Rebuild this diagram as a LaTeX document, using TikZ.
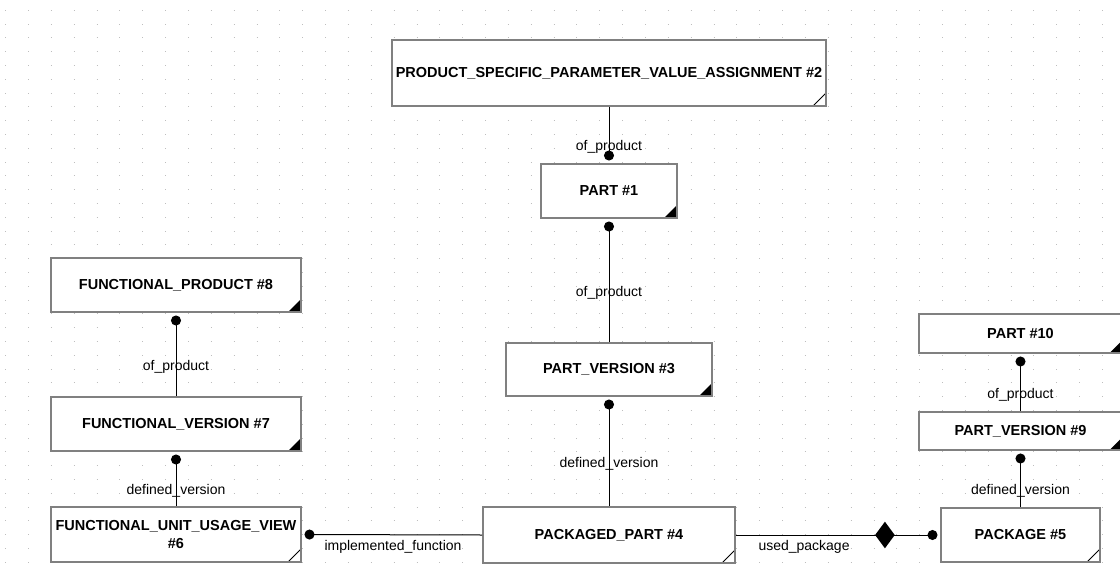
\documentclass[tikz,border=0pt]{standalone}
\usepackage{fontspec}
\setsansfont{Liberation Sans}
\usepackage{tikz}
\usetikzlibrary{arrows.meta,shapes.geometric,positioning,calc}

\definecolor{entline}{RGB}{128,128,128}
\definecolor{griddot}{RGB}{190,190,190}

\begin{document}
\begin{tikzpicture}[x=1pt,y=-1pt,
  ent/.style={draw=entline,line width=2pt,fill=white,inner sep=0pt,align=center,
    font=\sffamily\bfseries\fontsize{14.5}{18}\selectfont},
  entfull/.style={ent,path picture={\fill[black] (path picture bounding box.south east) -- ++(-13pt,0pt) -- ++(13pt,13pt) -- cycle;}},
  entopen/.style={ent,path picture={\draw[black,line width=1pt] ([xshift=-13pt]path picture bounding box.south east) -- ++(13pt,13pt);}},
  conn/.style={draw=black,line width=1pt},
  dotstart/.style={arrows={{Circle[length=10pt]}-},shorten <=2.5pt},
  dotend/.style={arrows={-{Circle[length=10pt]}},shorten >=2.5pt},
  lbl/.style={font=\sffamily\fontsize{14}{16}\selectfont,inner sep=2pt,below,yshift=-3pt},
  hlbl/.style={font=\sffamily\fontsize{14}{16}\selectfont,inner sep=2pt,pos=0,anchor=north west,xshift=20pt,yshift=-3pt},
  diamark/.style={diamond,fill=black,inner sep=0pt,minimum width=20pt,minimum height=27pt}]

  % page and dotted grid
  \fill[white] (0,0) rectangle (1120,573);
  \useasboundingbox (0,0) rectangle (1120,573);
  \foreach \k in {0,...,40}
    \draw[griddot,line width=1pt,dash pattern=on 1pt off 21.85pt] (5.2,{10.3+\k*13.8}) -- (1120,{10.3+\k*13.8});

  % entities
  \node[entopen,minimum width=434pt,minimum height=66pt] (pspva) at (609,73) {PRODUCT\_SPECIFIC\_PARAMETER\_VALUE\_ASSIGNMENT \#2};
  \node[entfull,minimum width=136pt,minimum height=54pt] (part1) at (609,191) {PART \#1};
  \node[entfull,minimum width=206pt,minimum height=53pt] (pv3) at (609,369.5) {PART\_VERSION \#3};
  \node[entopen,minimum width=252pt,minimum height=56pt] (pp4) at (609,535) {PACKAGED\_PART \#4};
  \node[entfull,minimum width=250pt,minimum height=54pt] (fp8) at (176,285) {FUNCTIONAL\_PRODUCT \#8};
  \node[entfull,minimum width=250pt,minimum height=54pt] (fv7) at (176,424) {FUNCTIONAL\_VERSION \#7};
  \node[entopen,minimum width=250pt,minimum height=55pt] (fuuv6) at (176,534.5) {FUNCTIONAL\_UNIT\_USAGE\_VIEW\\\#6};
  \node[entfull,minimum width=204pt,minimum height=39pt] (part10) at (1020.5,333.5) {PART \#10};
  \node[entfull,minimum width=204pt,minimum height=38pt] (pv9) at (1020.5,431) {PART\_VERSION \#9};
  \node[entopen,minimum width=159pt,minimum height=54pt] (pkg5) at (1020.5,535) {PACKAGE \#5};

  % relations
  \draw[conn,dotend] (pspva.south) -- node[lbl] {of\_product} (part1.north);
  \draw[conn,dotstart] (part1.south) -- node[lbl] {of\_product} (pv3.north);
  \draw[conn,dotstart] (pv3.south) -- node[lbl] {defined\_version} (pp4.north);
  \draw[conn,dotstart] (fp8.south) -- node[lbl] {of\_product} (fv7.north);
  \draw[conn,dotstart] (fv7.south) -- node[lbl] {defined\_version} (fuuv6.north);
  \draw[conn,dotstart] (fuuv6.east) -- node[hlbl] {implemented\_function} (pp4.west);
  \draw[conn,dotend] (pp4.east) -- node[hlbl] {used\_package} node[diamark,pos=0.73] (dia) {} (pkg5.west);
  \draw[conn,dotstart] (part10.south) -- node[lbl] {of\_product} (pv9.north);
  \draw[conn,dotstart] (pv9.south) -- node[lbl] {defined\_version} (pkg5.north);
\end{tikzpicture}
\end{document}
